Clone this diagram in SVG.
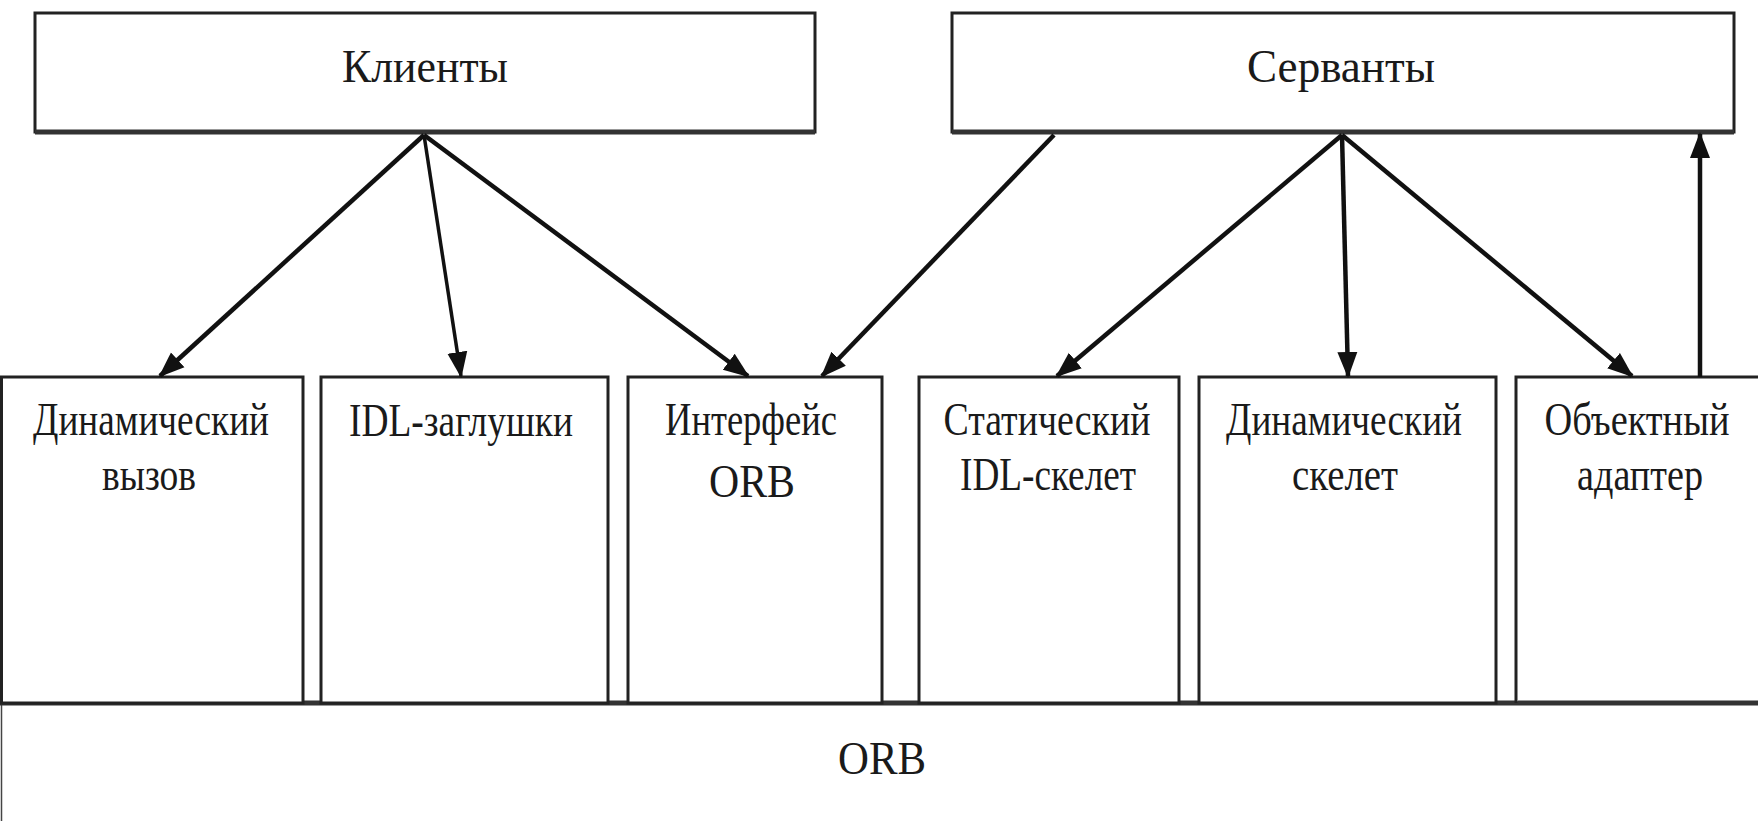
<svg xmlns="http://www.w3.org/2000/svg" width="1758" height="822" viewBox="0 0 1758 822">
<style>
.box{fill:#fff;stroke:#222;stroke-width:3}
.t{font-family:"Liberation Serif","DejaVu Serif",serif;font-size:46px;fill:#1a1a1a;text-anchor:middle}
.c{stroke:#111;stroke-width:4.5;fill:none}
</style>
<defs>
<marker id="ah" markerUnits="userSpaceOnUse" markerWidth="26" markerHeight="22" refX="24" refY="11" orient="auto">
<path d="M0,1 L26,11 L0,21 Z" fill="#111"/>
</marker>
</defs>
<rect width="1758" height="822" fill="#fff"/>
<g id="orb">
<path d="M1.5,821 V703 H1758" fill="#fff" stroke="#444" stroke-width="1.5"/>
<line x1="0" y1="703" x2="1758" y2="703" stroke="#333" stroke-width="5"/>
<text class="t" x="882" y="774" textLength="88" lengthAdjust="spacingAndGlyphs">ORB</text>
</g>
<g id="clients">
<rect class="box" x="35" y="13" width="780" height="119"/>
<line x1="35" y1="132" x2="815" y2="132" stroke="#333" stroke-width="5"/>
<text class="t" x="425" y="82" textLength="166" lengthAdjust="spacingAndGlyphs">Клиенты</text>
</g>
<g id="servants">
<rect class="box" x="952" y="13" width="782" height="119"/>
<line x1="952" y1="132" x2="1734" y2="132" stroke="#333" stroke-width="5"/>
<text class="t" x="1341" y="82" textLength="188" lengthAdjust="spacingAndGlyphs">Серванты</text>
</g>
<g id="dyn-call">
<rect class="box" x="1.5" y="377" width="301.5" height="326"/>
<text class="t" x="151" y="435" textLength="236" lengthAdjust="spacingAndGlyphs">Динамический</text>
<text class="t" x="149" y="490" textLength="94" lengthAdjust="spacingAndGlyphs">вызов</text>
</g>
<g id="idl-stubs">
<rect class="box" x="321" y="377" width="287" height="326"/>
<text class="t" x="461" y="436" textLength="224" lengthAdjust="spacingAndGlyphs">IDL-заглушки</text>
</g>
<g id="orb-iface">
<rect class="box" x="628" y="377" width="254" height="326"/>
<text class="t" x="751" y="435" textLength="172" lengthAdjust="spacingAndGlyphs">Интерфейс</text>
<text class="t" x="752" y="497" textLength="86" lengthAdjust="spacingAndGlyphs">ORB</text>
</g>
<g id="static-skel">
<rect class="box" x="919" y="377" width="260" height="326"/>
<text class="t" x="1047" y="435" textLength="207" lengthAdjust="spacingAndGlyphs">Статический</text>
<text class="t" x="1048" y="490" textLength="176" lengthAdjust="spacingAndGlyphs">IDL-скелет</text>
</g>
<g id="dyn-skel">
<rect class="box" x="1199" y="377" width="297" height="326"/>
<text class="t" x="1344" y="435" textLength="236" lengthAdjust="spacingAndGlyphs">Динамический</text>
<text class="t" x="1345" y="490" textLength="106" lengthAdjust="spacingAndGlyphs">скелет</text>
</g>
<g id="obj-adapter">
<path d="M1758,377 H1516 V703" fill="#fff" stroke="#222" stroke-width="3"/>
<text class="t" x="1637" y="435" textLength="185" lengthAdjust="spacingAndGlyphs">Объектный</text>
<text class="t" x="1640" y="490" textLength="126" lengthAdjust="spacingAndGlyphs">адаптер</text>
</g>
<g id="connectors">
<line class="c" x1="424" y1="135" x2="160" y2="376" marker-end="url(#ah)"/>
<line class="c" x1="424" y1="135" x2="461" y2="376" marker-end="url(#ah)" style="stroke-width:3.5"/>
<line class="c" x1="424" y1="135" x2="748" y2="376" marker-end="url(#ah)"/>
<line class="c" x1="1054" y1="135" x2="822" y2="376" marker-end="url(#ah)"/>
<line class="c" x1="1342" y1="135" x2="1057" y2="376" marker-end="url(#ah)"/>
<line class="c" x1="1342" y1="135" x2="1348" y2="376" marker-end="url(#ah)"/>
<line class="c" x1="1342" y1="135" x2="1632" y2="376" marker-end="url(#ah)"/>
<line class="c" x1="1700" y1="377" x2="1700" y2="134" marker-end="url(#ah)"/>
</g>
</svg>
